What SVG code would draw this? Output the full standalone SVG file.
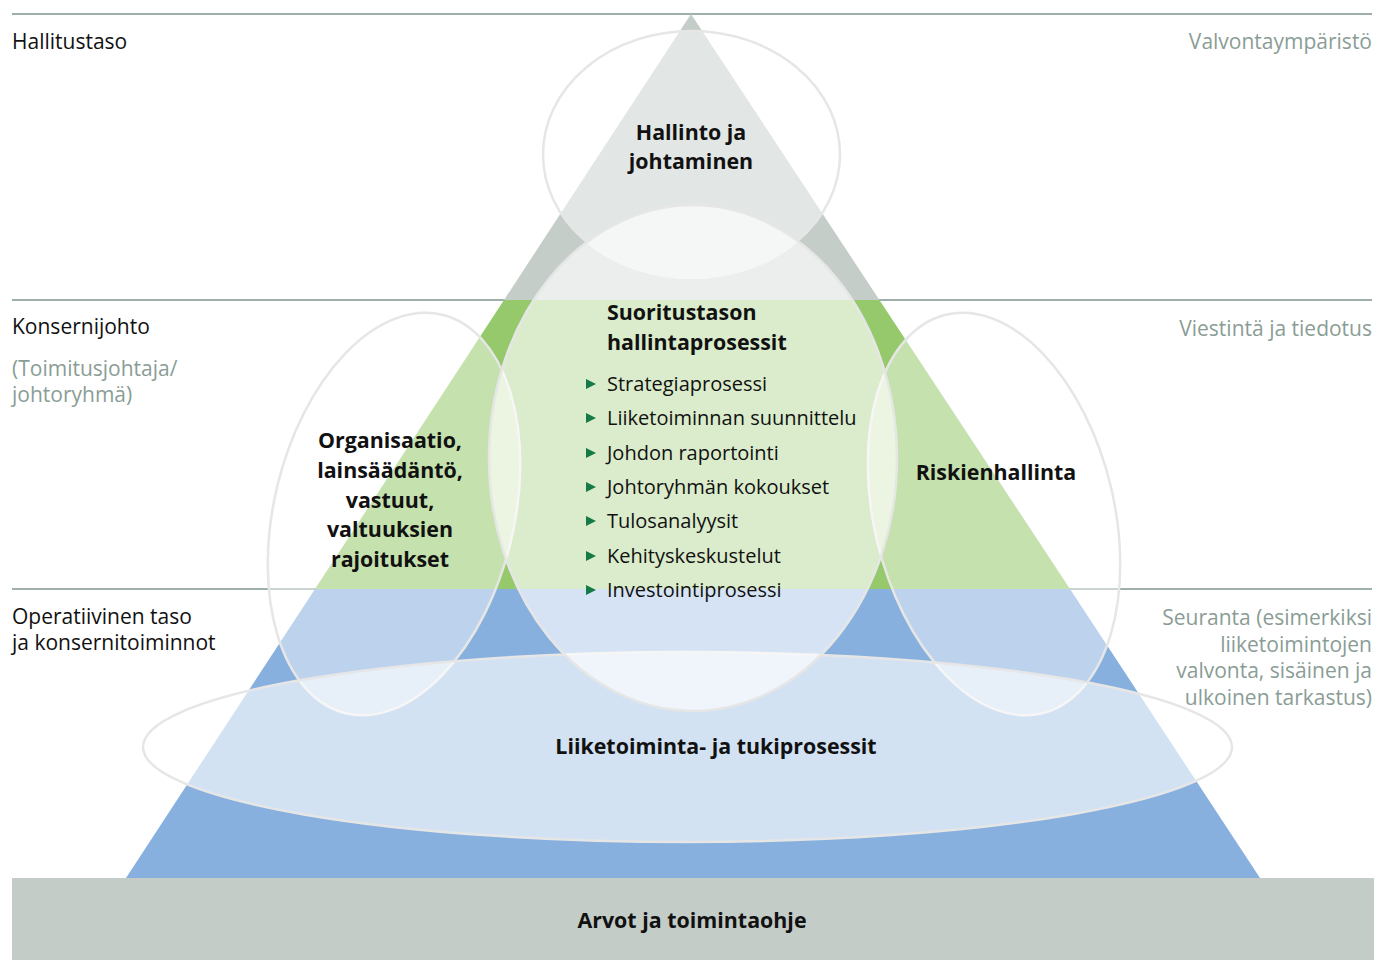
<svg xmlns="http://www.w3.org/2000/svg" width="1378" height="960" viewBox="0 0 1378 960">
<style>
text{font-family:"Open Sans","Noto Sans","Liberation Sans",sans-serif;}
.lvl{font-size:21px;fill:#111;}
.side{font-size:21px;fill:#8a9d95;}
.b{font-size:21.4px;font-weight:700;fill:#111;}
.li{font-size:20px;fill:#111;}
.ell{stroke:#e6e6e6;stroke-width:2.5;fill:#fff;}
.rule{stroke:#9fb0aa;stroke-width:2;}
.bul{fill:#157a46;}
</style>
<rect width="1378" height="960" fill="#fff"/>
<g id="rules">
<line class="rule" x1="12" y1="14" x2="1372" y2="14"/>
<line class="rule" x1="12" y1="300" x2="1372" y2="300"/>
<line class="rule" x1="12" y1="589" x2="1372" y2="589"/>
</g>
<g id="pyramid">
<polygon points="691,14 879.4,300 504,300" fill="#c5cdc9"/>
<polygon points="504,300 879.4,300 1070,589 315,589" fill="#95c96b"/>
<polygon points="315,589 1070,589 1260,878 126,878" fill="#87b0de"/>
</g>
<g id="base">
<rect x="12" y="878" width="1362" height="82" fill="#c4ccc7"/>
<text class="b" x="692" y="928" text-anchor="middle">Arvot ja toimintaohje</text>
</g>
<g id="hallinto">
<ellipse class="ell" cx="691.5" cy="154.5" rx="148.5" ry="123.5" fill-opacity="0.5"/>
<text class="b" x="691" y="140" text-anchor="middle">Hallinto ja</text>
<text class="b" x="691" y="169" text-anchor="middle">johtaminen</text>
</g>
<g id="organisaatio">
<ellipse class="ell" cx="0" cy="0" rx="120" ry="205" fill-opacity="0.45" transform="translate(394 514) rotate(13.6)"/>
</g>
<g id="riski">
<ellipse class="ell" cx="0" cy="0" rx="120" ry="205" fill-opacity="0.45" transform="translate(994 514) rotate(-13.6)"/>
</g>
<g id="liiketoiminta">
<ellipse class="ell" cx="687.5" cy="747" rx="544.5" ry="95" fill-opacity="0.63"/>
</g>
<g id="suoritus">
<ellipse class="ell" cx="693" cy="458" rx="204" ry="253" fill-opacity="0.65"/>
</g>
<g id="labels">
<text class="b" x="390" y="448" text-anchor="middle">Organisaatio,</text>
<text class="b" x="390" y="478" text-anchor="middle">lainsäädäntö,</text>
<text class="b" x="390" y="508" text-anchor="middle">vastuut,</text>
<text class="b" x="390" y="537" text-anchor="middle">valtuuksien</text>
<text class="b" x="390" y="567" text-anchor="middle">rajoitukset</text>
<text class="b" x="996" y="480" text-anchor="middle">Riskienhallinta</text>
<text class="b" x="716" y="754" text-anchor="middle">Liiketoiminta- ja tukiprosessit</text>
<text class="b" x="607" y="320">Suoritustason</text>
<text class="b" x="607" y="350">hallintaprosessit</text>
</g>
<g id="list">
<polygon class="bul" points="586,379 596,384 586,389"/>
<text class="li" x="607" y="391">Strategiaprosessi</text>
<polygon class="bul" points="586,413 596,418 586,423"/>
<text class="li" x="607" y="425">Liiketoiminnan suunnittelu</text>
<polygon class="bul" points="586,448 596,453 586,458"/>
<text class="li" x="607" y="460">Johdon raportointi</text>
<polygon class="bul" points="586,482 596,487 586,492"/>
<text class="li" x="607" y="494">Johtoryhmän kokoukset</text>
<polygon class="bul" points="586,516 596,521 586,526"/>
<text class="li" x="607" y="528">Tulosanalyysit</text>
<polygon class="bul" points="586,551 596,556 586,561"/>
<text class="li" x="607" y="563">Kehityskeskustelut</text>
<polygon class="bul" points="586,585 596,590 586,595"/>
<text class="li" x="607" y="597">Investointiprosessi</text>
</g>
<g id="levels">
<text class="lvl" x="12" y="49">Hallitustaso</text>
<text class="lvl" x="12" y="334">Konsernijohto</text>
<text class="side" x="12" y="376">(Toimitusjohtaja/</text>
<text class="side" x="12" y="402">johtoryhmä)</text>
<text class="lvl" x="12" y="624">Operatiivinen taso</text>
<text class="lvl" x="12" y="650">ja konsernitoiminnot</text>
</g>
<g id="sides">
<text class="side" x="1372" y="49" text-anchor="end">Valvontaympäristö</text>
<text class="side" x="1372" y="336" text-anchor="end">Viestintä ja tiedotus</text>
<text class="side" x="1372" y="625" text-anchor="end">Seuranta (esimerkiksi</text>
<text class="side" x="1372" y="652" text-anchor="end">liiketoimintojen</text>
<text class="side" x="1372" y="678" text-anchor="end">valvonta, sisäinen ja</text>
<text class="side" x="1372" y="705" text-anchor="end">ulkoinen tarkastus)</text>
</g>
</svg>
